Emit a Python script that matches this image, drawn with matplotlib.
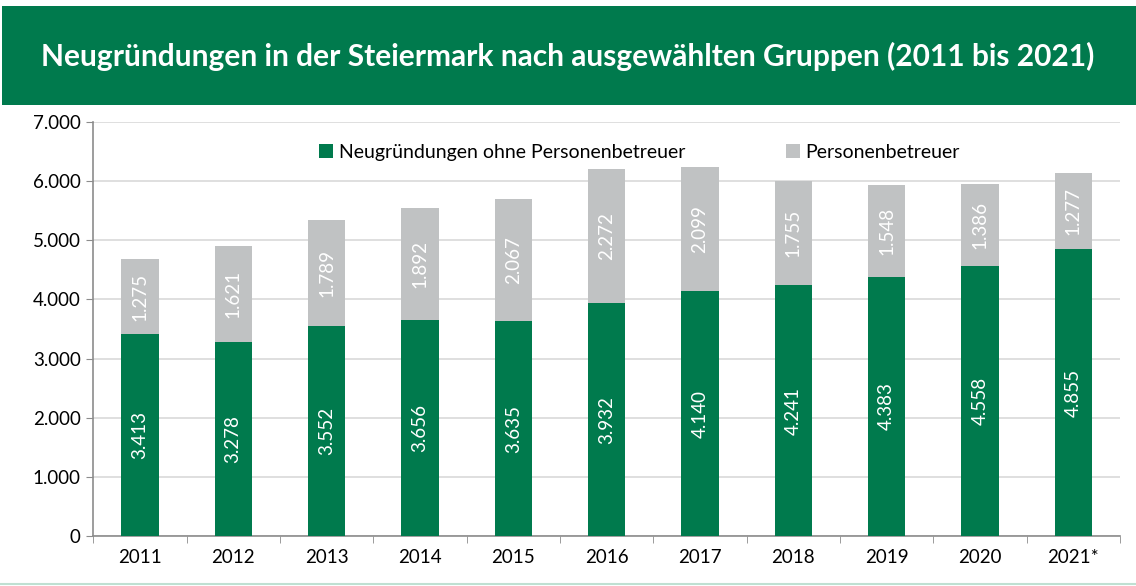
import numpy as np
import matplotlib.pyplot as plt
from matplotlib.patches import Rectangle

years = ["2011", "2012", "2013", "2014", "2015", "2016", "2017", "2018", "2019", "2020", "2021*"]
ohne_pb = [3413, 3278, 3552, 3656, 3635, 3932, 4140, 4241, 4383, 4558, 4855]
personenbetreuer = [1275, 1621, 1789, 1892, 2067, 2272, 2099, 1755, 1548, 1386, 1277]

green = "#007A4D"
grey = "#C0C2C3"

def fmt(v):
    return f"{v:,}".replace(",", ".")

plt.rcParams['font.family'] = ['Lato', 'DejaVu Sans']

fig = plt.figure(figsize=(11.36, 5.86), dpi=100)

# title banner
fig.patches.append(Rectangle((0.002, 0.82), 0.998, 0.17, transform=fig.transFigure,
                             facecolor=green, edgecolor="none", zorder=0))
fig.text(0.5, 0.903, "Neugründungen in der Steiermark nach ausgewählten Gruppen (2011 bis 2021)",
         ha="center", va="center", color="white", fontsize=21.5, fontweight="bold")
# bottom line
fig.add_artist(plt.Line2D([0.0, 1.0], [0.004, 0.004], transform=fig.transFigure,
                          color="#BFE0D2", lw=1.5))

ax = fig.add_axes([0.082, 0.085, 0.904, 0.707])
x = np.arange(len(years))
w = 0.4
ax.bar(x, ohne_pb, w, color=green, zorder=3, label="Neugründungen ohne Personenbetreuer")
ax.bar(x, personenbetreuer, w, bottom=ohne_pb, color=grey, zorder=3, label="Personenbetreuer")

for i in range(len(years)):
    ax.text(x[i], ohne_pb[i] / 2, fmt(ohne_pb[i]), rotation=90, ha="center", va="center",
            color="white", fontsize=13.5, zorder=4)
    ax.text(x[i], ohne_pb[i] + personenbetreuer[i] / 2, fmt(personenbetreuer[i]), rotation=90,
            ha="center", va="center", color="white", fontsize=13.5, zorder=4)

ax.set_xlim(-0.5, len(years) - 0.5)
ax.set_ylim(0, 7000)
ax.set_yticks(range(0, 7001, 1000))
ax.set_yticklabels([fmt(v) for v in range(0, 7001, 1000)], fontsize=13.5)
ax.set_xticks(x)
ax.set_xticklabels(years, fontsize=13.5)
ax.set_xticks(np.arange(-0.5, len(years), 1), minor=True)
ax.tick_params(axis="x", which="major", length=0, pad=9)
ax.tick_params(axis="x", which="minor", length=5, color="#8C8C8C")
ax.tick_params(axis="y", length=5, color="#8C8C8C", pad=4)
ax.grid(axis="y", color="#D9D9D9", lw=1.2, zorder=0)
for s in ["top", "right"]:
    ax.spines[s].set_visible(False)
ax.spines["left"].set_color("#8C8C8C")
ax.spines["bottom"].set_color("#8C8C8C")
ax.spines["left"].set_linewidth(1.2)
ax.spines["bottom"].set_linewidth(1.2)

ax.legend(loc="upper center", bbox_to_anchor=(0.532, 0.99), ncol=2, frameon=False,
          fontsize=14, handlelength=0.7, handleheight=0.7, handletextpad=0.3,
          columnspacing=5.2)

fig.savefig("out.png", dpi=100)
